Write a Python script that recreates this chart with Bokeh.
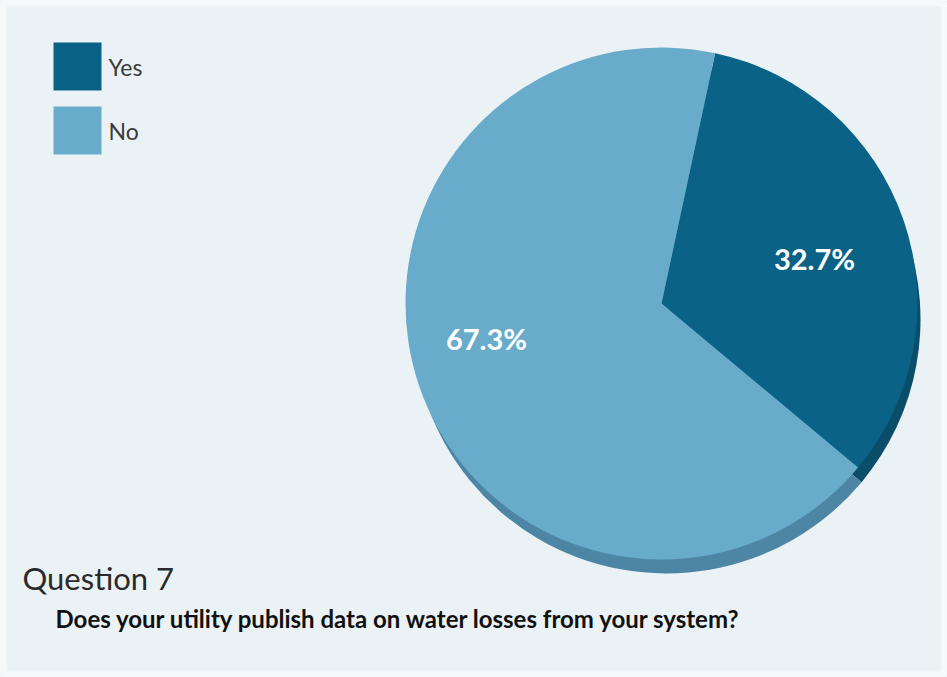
import numpy as np
from bokeh.plotting import figure
from bokeh.models import Range1d, ColumnDataSource
from bokeh.core.properties import value
from bokeh.embed import file_html
from bokeh.resources import INLINE

# ---- data ----
categories = ["Yes", "No"]
values = [32.7, 67.3]
labels = ["32.7%", "67.3%"]
colors = ["#0a6286", "#68abcb"]
depth_colors = ["#0a4d69", "#4d86a4"]
title_text = "Question 7"
question_text = "Does your utility publish data on water losses from your system?"

W, H = 947, 677
p = figure(width=W, height=H, x_range=Range1d(0, W), y_range=Range1d(0, H),
           x_axis_type=None, y_axis_type=None, toolbar_location=None,
           output_backend="svg", min_border=0)
p.grid.visible = False
p.outline_line_color = None
p.background_fill_color = "#eaf2f5"
p.border_fill_color = "#eaf2f5"

# frame
p.rect(x=W / 2, y=H / 2, width=W - 6, height=H - 6, fill_color=None,
       line_color="#f6f9fa", line_width=6)

# pie geometry
cx, cy, r = 661, H - 303, 256
dx, dy = 5, 16
start0 = np.deg2rad(77.9)
fr = np.array(values) / sum(values)
ends = start0 - np.cumsum(fr) * 2 * np.pi
starts = np.concatenate([[start0], ends[:-1]])
src = ColumnDataSource(dict(cat=categories, start=starts, end=ends,
                            color=colors, dcolor=depth_colors))

p.wedge(x=cx + dx, y=cy - dy, radius=r - 2, start_angle="start", end_angle="end",
        direction="clock", fill_color="dcolor", line_color=None, source=src)
p.wedge(x=cx, y=cy, radius=r, start_angle="start", end_angle="end",
        direction="clock", fill_color="color", line_color=None, source=src)

# slice labels
lab_x = [814, 486]
lab_y = [H - 258, H - 338]
p.text(x=lab_x, y=lab_y, text=labels, text_color="white",
       text_font=value("Lato"), text_font_style="bold", text_font_size="29px",
       text_align="center", text_baseline="middle")

# legend
leg_y = [H - 66, H - 130]
p.rect(x=[77, 77], y=leg_y, width=48, height=48, fill_color=colors, line_color=None)
p.text(x=[108, 108], y=leg_y, text=categories, text_color="#3a3a3a",
       text_font=value("Lato"), text_font_size="23px", text_baseline="middle")

# titles
p.text(x=[22], y=[H - 577], text=[title_text], text_color="#2a2a2a",
       text_font=value("Lato"), text_font_size="31px", text_baseline="middle")
p.text(x=[55], y=[H - 618], text=[question_text], text_color="#111111",
       text_font=value("Lato"), text_font_style="bold", text_font_size="24px",
       text_baseline="middle")

open("out.html", "w").write(file_html(p, INLINE))
